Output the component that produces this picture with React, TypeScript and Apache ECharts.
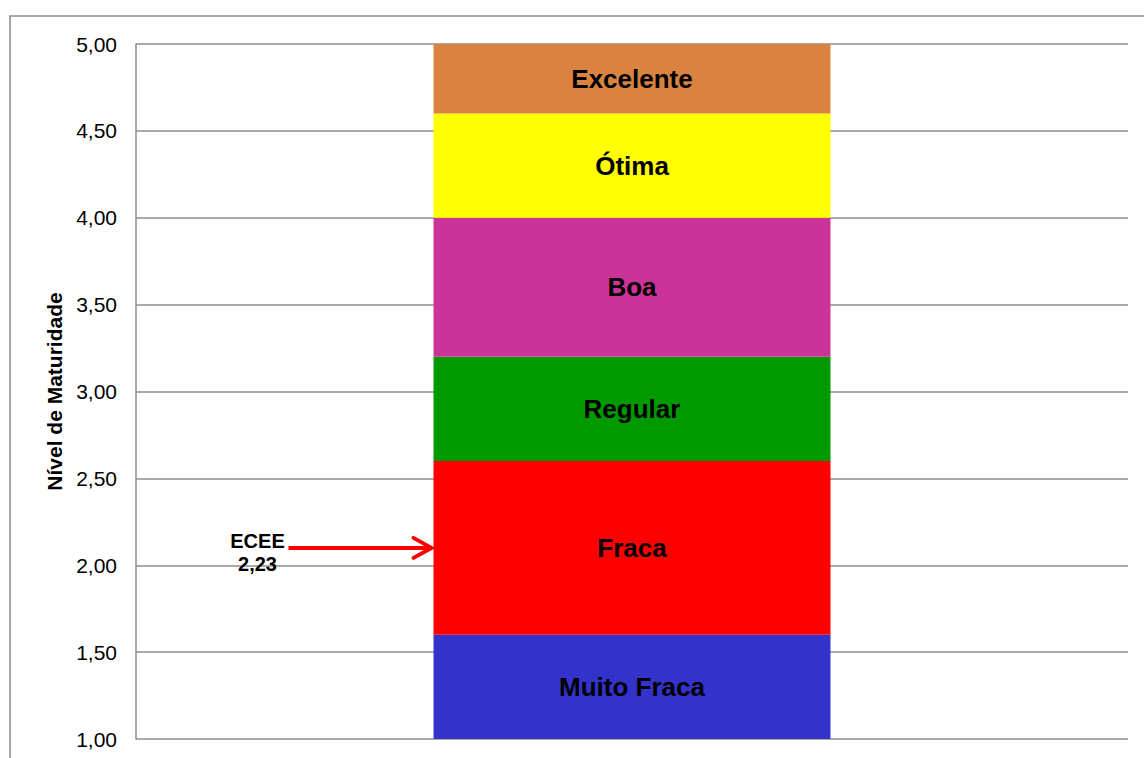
import React, { useEffect, useRef } from "react";
import * as echarts from "echarts";

const categories = ["ECEE"];
const levelNames = ["Muito Fraca", "Fraca", "Regular", "Boa", "Ótima", "Excelente"];
const levelBounds = [1.0, 1.6, 2.6, 3.2, 4.0, 4.6, 5.0];
const levelColors = ["#3333CC", "#FF0000", "#009900", "#CC3399", "#FFFF00", "#DA8340"];
const yTicks = [1.0, 1.5, 2.0, 2.5, 3.0, 3.5, 4.0, 4.5, 5.0];
const markerName = "ECEE";
const markerLabel = "2,23";
const markerArrowValue = 2.1;

const FONT = "'Liberation Sans', Arial, sans-serif";
const BAR_WIDTH = 397;

export default function App() {
  const ref = useRef<HTMLDivElement>(null);
  useEffect(() => {
    if (!ref.current) return;
    const chart = echarts.init(ref.current, undefined, { renderer: "svg" });
    const series: any[] = [
      {
        type: "bar",
        stack: "s",
        data: [levelBounds[0]],
        barWidth: BAR_WIDTH,
        itemStyle: { color: "transparent" },
        silent: true,
      },
    ];
    levelNames.forEach((name, i) => {
      series.push({
        type: "bar",
        name,
        stack: "s",
        barWidth: BAR_WIDTH,
        data: [+(levelBounds[i + 1] - levelBounds[i]).toFixed(2)],
        itemStyle: { color: levelColors[i] },
        label: {
          show: true,
          position: "inside",
          formatter: name,
          color: "#000",
          fontFamily: FONT,
          fontWeight: "bold",
          fontSize: 26,
        },
      });
    });
    chart.setOption({
      animation: false,
      grid: { left: 136, top: 44, right: 16, bottom: 19, containLabel: false },
      xAxis: {
        type: "category",
        data: categories,
        axisLine: { show: false },
        axisTick: { show: false },
        axisLabel: { show: false },
      },
      yAxis: {
        type: "value",
        min: yTicks[0],
        max: yTicks[yTicks.length - 1],
        interval: 0.5,
        name: "Nível de Maturidade",
        nameLocation: "middle",
        nameRotate: 90,
        nameGap: 66,
        nameTextStyle: { fontFamily: FONT, fontWeight: "bold", fontSize: 21, color: "#000" },
        axisLine: { show: true, lineStyle: { color: "#8c8c8c", width: 1.5 } },
        axisTick: { show: false },
        axisLabel: {
          margin: 19,
          color: "#000",
          fontFamily: FONT,
          fontSize: 21,
          formatter: (v: number) => v.toFixed(2).replace(".", ","),
        },
        splitLine: { show: true, lineStyle: { color: "#8c8c8c", width: 1.5 } },
      },
      series,
    });

    const [cx, ay] = chart.convertToPixel({ gridIndex: 0 }, [categories[0], markerArrowValue]) as number[];
    const barLeft = cx - BAR_WIDTH / 2;
    const startX = barLeft - 145;
    chart.setOption({
      graphic: [
        {
          type: "rect",
          shape: { x: 10, y: 16, width: 1200, height: 800 },
          style: { fill: "none", stroke: "#8c8c8c", lineWidth: 1.5 },
          silent: true,
          z: -10,
        },
        {
          type: "line",
          shape: { x1: startX, y1: ay, x2: barLeft - 2, y2: ay },
          style: { stroke: "#FF0000", lineWidth: 4 },
          z: 100,
        },
        {
          type: "polyline",
          shape: {
            points: [
              [barLeft - 20, ay - 10],
              [barLeft - 2, ay],
              [barLeft - 20, ay + 10],
            ],
          },
          style: { stroke: "#FF0000", lineWidth: 4, fill: "none", lineCap: "round", lineJoin: "miter" },
          z: 100,
        },
        {
          type: "text",
          x: startX - 31,
          y: ay + 5,
          style: {
            text: markerName + "\n" + markerLabel,
            fontFamily: FONT,
            fontWeight: "bold",
            fontSize: 20,
            lineHeight: 23,
            fill: "#000",
            align: "center",
            verticalAlign: "middle",
          },
          z: 100,
        },
      ],
    });
    return () => chart.dispose();
  }, []);
  return (
    <div
      ref={ref}
      style={{ position: "fixed", left: 0, top: 0, width: 1144, height: 758, background: "#fff" }}
    />
  );
}
